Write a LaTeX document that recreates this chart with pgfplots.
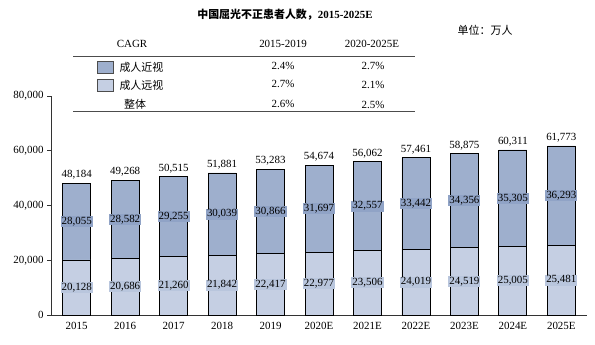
\documentclass[border=0pt]{standalone}
\usepackage{pgfplots}
\pgfplotsset{compat=1.18}
\usepackage{pgfplotstable}
\usepackage{fontspec}
\setmainfont{Liberation Serif}
\newfontfamily\cjk{Noto Sans CJK SC}
\definecolor{upper}{HTML}{9EAFCD}
\definecolor{lower}{HTML}{C5CFE3}
\definecolor{upperlab}{HTML}{90A3C6}
\definecolor{lowerlab}{HTML}{B9C6DD}
\pgfplotstableread{
x lower upper total
0 20128 28055 48184
1 20686 28582 49268
2 21260 29255 50515
3 21842 30039 51881
4 22417 30866 53283
5 22977 31697 54674
6 23506 32557 56062
7 24019 33442 57461
8 24519 34356 58875
9 25005 35305 60311
10 25481 36293 61773
}\data
\newcommand{\fs}{\fontsize{11}{13}\selectfont}
\begin{document}
\begin{tikzpicture}[x=1bp,y=1bp]
\useasboundingbox (0,0) rectangle (595,344);
% title and unit
\node[font=\fs\bfseries] at (285,329) {{\cjk\bfseries 中国屈光不正患者人数，}2015-2025E};
\node[font=\fs, anchor=east] at (516,314) {\cjk 单位：万人};
% CAGR table
\node[font=\fs] at (132,300) {CAGR};
\node[font=\fs] at (283,300) {2015-2019};
\node[font=\fs] at (372,300) {2020-2025E};
\draw[black!70, line width=0.8bp] (73,288) -- (415,288);
\draw[black!70, line width=0.8bp] (73,233) -- (415,233);
\draw[fill=upper, draw=black!70, line width=0.8bp] (97,271) rectangle (113,283);
\draw[fill=lower, draw=black!70, line width=0.8bp] (97,253) rectangle (113,265);
\node[font=\fs\cjk, anchor=west] at (116,277) {成人近视};
\node[font=\fs\cjk, anchor=west] at (116,259) {成人远视};
\node[font=\fs\cjk] at (135,240) {整体};
\node[font=\fs] at (283,278) {2.4\%};
\node[font=\fs] at (373,278) {2.7\%};
\node[font=\fs] at (283,260) {2.7\%};
\node[font=\fs] at (373,259) {2.1\%};
\node[font=\fs] at (283,240) {2.6\%};
\node[font=\fs] at (373,239) {2.5\%};
\begin{axis}[
  at={(51bp,29bp)}, anchor=south west, scale only axis,
  width=536bp, height=219bp,
  xmin=-0.53, xmax=10.53, ymin=0, ymax=80000,
  axis x line=bottom, axis y line=left,
  axis line style={-, draw=black!80, line width=0.8bp},
  xtick={0,...,10},
  xticklabels={2015,2016,2017,2018,2019,2020E,2021E,2022E,2023E,2024E,2025E},
  x tick style={draw=none},
  ytick={0,20000,40000,60000,80000},
  y tick style={draw=black!80, line width=0.8bp},
  tick align=outside, major tick length=4bp,
  scaled y ticks=false,
  tick label style={font=\fs},
  /pgf/number format/.cd, 1000 sep={,}, assume math mode=true,
  /pgfplots/.cd,
  clip=false,
]
\addplot[ybar, bar width=28bp, bar shift=0pt, fill=upper, draw=black, line width=0.8bp,
  nodes near coords={\pgfmathprintnumber[fixed,precision=0,1000 sep={,},assume math mode=true]{\pgfplotspointmeta}},
  nodes near coords style={font=\fs, text=black}]
  table[x=x, y=total] {\data};
\addplot[ybar, bar width=28bp, bar shift=0pt, fill=lower, draw=black, line width=0.8bp]
  table[x=x, y=lower] {\data};
\addplot[draw=none, mark=none, point meta=explicit,
  nodes near coords={\pgfmathprintnumber[fixed,precision=0,1000 sep={,},assume math mode=true]{\pgfplotspointmeta}},
  every node near coord/.append style={font=\fs, text=black, fill=upperlab, inner sep=1bp, anchor=center}]
  table[x=x, y expr={(\thisrow{lower}+\thisrow{total})/2}, meta=upper] {\data};
\addplot[draw=none, mark=none, point meta=explicit,
  nodes near coords={\pgfmathprintnumber[fixed,precision=0,1000 sep={,},assume math mode=true]{\pgfplotspointmeta}},
  every node near coord/.append style={font=\fs, text=black, fill=lowerlab, inner sep=1bp, anchor=center}]
  table[x=x, y expr={\thisrow{lower}/2}, meta=lower] {\data};
\end{axis}
\end{tikzpicture}
\end{document}
